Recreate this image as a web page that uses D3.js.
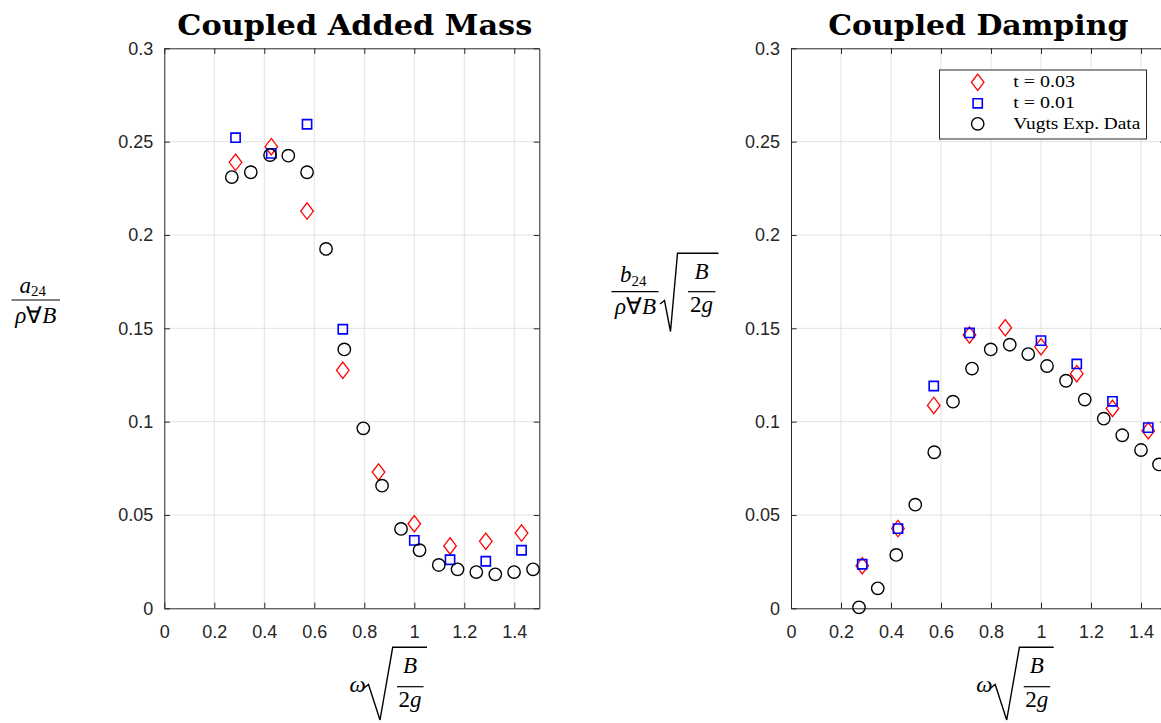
<!DOCTYPE html>
<html>
<head>
<meta charset="utf-8">
<script src="https://cdn.jsdelivr.net/npm/d3@7/dist/d3.min.js"></script>
<style>
  html, body { margin: 0; padding: 0; background: #fff; }
  svg { display: block; }
</style>
</head>
<body>
<script>
// ---------------- DATA ----------------
const xTicks = [0, 0.2, 0.4, 0.6, 0.8, 1, 1.2, 1.4];
const xTickLabels = ["0", "0.2", "0.4", "0.6", "0.8", "1", "1.2", "1.4"];
const yTicks = [0, 0.05, 0.1, 0.15, 0.2, 0.25, 0.3];
const yTickLabels = ["0", "0.05", "0.1", "0.15", "0.2", "0.25", "0.3"];

const seriesNames = ["t = 0.03", "t = 0.01", "Vugts Exp. Data"];
const titles = ["Coupled Added Mass", "Coupled Damping"];

// model frequencies (t = 0.03 and t = 0.01)
const modelX = [0.285, 0.428, 0.571, 0.714, 0.857, 1.0, 1.143, 1.286, 1.429];

// Coupled added mass
const addedT03 = [0.2389, 0.2473, 0.2128, 0.1275, 0.0730, 0.0453, 0.0334, 0.0359, 0.0403];
const addedT01 = [0.2521, 0.2437, 0.2593, 0.1495, null, 0.0364, 0.0260, 0.0252, 0.0311];
const addedVugtsX = [0.270, 0.346, 0.423, 0.496, 0.571, 0.647, 0.720, 0.796, 0.871, 0.947, 1.021, 1.098, 1.173, 1.248, 1.324, 1.399, 1.475];
const addedVugtsY = [0.2310, 0.2336, 0.2428, 0.2425, 0.2336, 0.1925, 0.1387, 0.0964, 0.0657, 0.0425, 0.0311, 0.0232, 0.0209, 0.0194, 0.0182, 0.0194, 0.0209];

// Coupled damping
const dampT03 = [0.0228, 0.0427, 0.1087, 0.1464, 0.1503, 0.1401, 0.1257, 0.1071, 0.0951];
const dampT01 = [0.0236, 0.0427, 0.1191, 0.1475, null, 0.1434, 0.1309, 0.1109, 0.0968];
const dampVugtsX = [0.272, 0.347, 0.421, 0.497, 0.573, 0.648, 0.724, 0.799, 0.875, 0.949, 1.024, 1.100, 1.175, 1.251, 1.325, 1.400, 1.472];
const dampVugtsY = [0.0005, 0.0107, 0.0286, 0.0555, 0.0836, 0.1107, 0.1284, 0.1387, 0.1412, 0.1362, 0.1298, 0.1219, 0.1118, 0.1016, 0.0927, 0.0848, 0.0771];

// ---------------- LAYOUT ----------------
const W = 1161, H = 723;
const AX = "#262626", GRID = "#e3e3e3";
const RED = "#ff0000", BLUE = "#0000ff", BLACK = "#000000";
const TICKFONT = "'Liberation Sans', Arial, sans-serif";
const SERIF = "'Liberation Serif', 'Times New Roman', serif";
const TITLEFONT = "'DejaVu Serif', 'Liberation Serif', serif";

const svg = d3.select("body").append("svg").attr("width", W).attr("height", H);

const yScale = d3.scaleLinear().domain([0, 0.3]).range([608.3, 48.3]);

// marker shapes
const diamondType = { draw(ctx, size) { const hw = 6.3, hh = 8.2; ctx.moveTo(0, -hh); ctx.lineTo(hw, 0); ctx.lineTo(0, hh); ctx.lineTo(-hw, 0); ctx.closePath(); } };
const squareType = { draw(ctx, size) { const h = 4.6; ctx.moveTo(-h, -h); ctx.lineTo(h, -h); ctx.lineTo(h, h); ctx.lineTo(-h, h); ctx.closePath(); } };
const circleType = { draw(ctx, size) { const r = 6.2; ctx.moveTo(r, 0); ctx.arc(0, 0, r, 0, 2 * Math.PI); } };
const markers = [
  { type: diamondType, color: RED, sw: 1.3 },
  { type: squareType, color: BLUE, sw: 1.6 },
  { type: circleType, color: BLACK, sw: 1.4 }
];

function drawPanel(px0, px1, title, titleX, titleLen, t03, t01, vx, vy) {
  const x = d3.scaleLinear().domain([0, 1.5]).range([px0, px1]);
  const g = svg.append("g");
  const top = yScale(0.3), bot = yScale(0);

  // grid
  g.append("g").selectAll("line.gx").data(xTicks.filter(d => d > 0)).join("line")
    .attr("x1", d => x(d)).attr("x2", d => x(d)).attr("y1", top).attr("y2", bot)
    .attr("stroke", GRID).attr("stroke-width", 1);
  g.append("g").selectAll("line.gy").data(yTicks.filter(d => d > 0 && d < 0.3)).join("line")
    .attr("x1", px0).attr("x2", px1).attr("y1", d => yScale(d)).attr("y2", d => yScale(d))
    .attr("stroke", GRID).attr("stroke-width", 1);

  // axes
  const styleAxis = sel => {
    sel.selectAll("path.domain").attr("stroke", AX).attr("stroke-width", 1);
    sel.selectAll(".tick line").attr("stroke", AX).attr("stroke-width", 1);
    sel.selectAll(".tick text").attr("fill", AX).style("font-family", TICKFONT).style("font-size", "18px");
  };
  g.append("g").attr("transform", `translate(0,${bot})`)
    .call(d3.axisBottom(x).tickValues(xTicks).tickFormat((d, i) => xTickLabels[i]).tickSize(-5.6).tickSizeOuter(0).tickPadding(17))
    .call(styleAxis);
  g.append("g").attr("transform", `translate(0,${top})`)
    .call(d3.axisTop(x).tickValues(xTicks).tickFormat("").tickSize(-5.6).tickSizeOuter(0))
    .call(styleAxis);
  g.append("g").attr("transform", `translate(${px0},0)`)
    .call(d3.axisLeft(yScale).tickValues(yTicks).tickFormat((d, i) => yTickLabels[i]).tickSize(-5.6).tickSizeOuter(0).tickPadding(11))
    .call(styleAxis);
  g.append("g").attr("transform", `translate(${px1},0)`)
    .call(d3.axisRight(yScale).tickValues(yTicks).tickFormat("").tickSize(-5.6).tickSizeOuter(0))
    .call(styleAxis);

  // data
  const sets = [
    modelX.map((d, i) => [d, t03[i]]),
    modelX.map((d, i) => [d, t01[i]]),
    vx.map((d, i) => [d, vy[i]])
  ];
  sets.forEach((pts, k) => {
    const m = markers[k];
    g.append("g").selectAll("path").data(pts.filter(p => p[1] !== null)).join("path")
      .attr("transform", p => `translate(${x(p[0])},${yScale(p[1])})`)
      .attr("d", d3.symbol().type(m.type))
      .attr("fill", "none").attr("stroke", m.color).attr("stroke-width", m.sw);
  });

  // title
  g.append("text").attr("x", titleX).attr("y", 34.5)
    .attr("textLength", titleLen).attr("lengthAdjust", "spacingAndGlyphs")
    .style("font-family", TITLEFONT).style("font-weight", "bold").style("font-size", "28px")
    .attr("fill", "#000").text(title);

  // x label: omega sqrt(B / 2g)
  const ox = px0 - 164.3;
  const xl = g.append("g").attr("transform", `translate(${ox},0)`);
  xl.append("text").attr("x", 349.5).attr("y", 692).style("font-family", SERIF).style("font-style", "italic")
    .style("font-size", "23px").attr("fill", "#000").text("ω");
  xl.append("path").attr("d", "M364,688 L368.5,684.5 L380,720 L392.7,647.3 L427,647.3")
    .attr("fill", "none").attr("stroke", "#000").attr("stroke-width", 1.4).attr("stroke-linejoin", "miter");
  xl.append("text").attr("x", 410).attr("y", 673).attr("text-anchor", "middle").style("font-family", SERIF)
    .style("font-style", "italic").style("font-size", "23px").attr("fill", "#000").text("B");
  xl.append("line").attr("x1", 397).attr("x2", 423.5).attr("y1", 686.7).attr("y2", 686.7).attr("stroke", "#000").attr("stroke-width", 1.2);
  const tg = xl.append("text").attr("x", 410).attr("y", 706.5).attr("text-anchor", "middle").style("font-family", SERIF)
    .style("font-size", "23px").attr("fill", "#000");
  tg.append("tspan").text("2");
  tg.append("tspan").style("font-style", "italic").text("g");
  return x;
}

drawPanel(164.3, 539.3, titles[0], 177.3, 355, addedT03, addedT01, addedVugtsX, addedVugtsY);
drawPanel(791, 1166, titles[1], 828.3, 300, dampT03, dampT01, dampVugtsX, dampVugtsY);

// ---------------- Y LABELS ----------------
function mathText(x, y, parts, anchor) {
  const t = svg.append("text").attr("x", x).attr("y", y).attr("text-anchor", anchor || "start")
    .style("font-family", SERIF).style("font-size", "23px").attr("fill", "#000");
  parts.forEach(p => {
    const s = t.append("tspan").text(p.t);
    if (p.i) s.style("font-style", "italic");
    if (p.sub) s.style("font-size", "15px").attr("dy", p.dy || 0);
    if (p.dyBack) s.attr("dy", p.dyBack);
  });
  return t;
}
// left: a24 / (rho forall B)
mathText(19.5, 292.5, [{ t: "a", i: true }, { t: "24", sub: true, dy: 3.5 }]);
svg.append("line").attr("x1", 11.5).attr("x2", 60).attr("y1", 300).attr("y2", 300).attr("stroke", "#000").attr("stroke-width", 1.2);
mathText(35.8, 322.5, [{ t: "ρ", i: true }, { t: "∀" }, { t: "B", i: true }], "middle");

// right: b24 / (rho forall B) * sqrt(B / 2g)
mathText(620, 282, [{ t: "b", i: true }, { t: "24", sub: true, dy: 3.5 }]);
svg.append("line").attr("x1", 611.5).attr("x2", 658.5).attr("y1", 291.7).attr("y2", 291.7).attr("stroke", "#000").attr("stroke-width", 1.2);
mathText(635.5, 314, [{ t: "ρ", i: true }, { t: "∀" }, { t: "B", i: true }], "middle");
svg.append("path").attr("d", "M660,304 L664.5,300.5 L670.5,331.5 L677.5,253.3 L718.5,253.3")
  .attr("fill", "none").attr("stroke", "#000").attr("stroke-width", 1.4);
mathText(701.5, 278.5, [{ t: "B", i: true }], "middle");
svg.append("line").attr("x1", 688).attr("x2", 715.5).attr("y1", 291.7).attr("y2", 291.7).attr("stroke", "#000").attr("stroke-width", 1.2);
mathText(701.5, 312, [{ t: "2" }, { t: "g", i: true }], "middle");

// ---------------- LEGEND ----------------
const lg = svg.append("g");
lg.append("rect").attr("x", 939.5).attr("y", 70).attr("width", 207).attr("height", 69)
  .attr("fill", "#fff").attr("stroke", AX).attr("stroke-width", 1);
const legRows = [82.3, 103.3, 123.8];
const legLens = [61.7, 61.7, 127];
seriesNames.forEach((name, k) => {
  const m = markers[k];
  lg.append("path").attr("transform", `translate(977.7,${legRows[k]})`)
    .attr("d", d3.symbol().type(m.type)).attr("fill", "none").attr("stroke", m.color).attr("stroke-width", m.sw);
  lg.append("text").attr("x", 1013.3).attr("y", legRows[k] + 5)
    .attr("textLength", legLens[k]).attr("lengthAdjust", "spacingAndGlyphs")
    .style("font-family", SERIF).style("font-size", "17px").attr("fill", "#000").text(name);
});
</script>
</body>
</html>
